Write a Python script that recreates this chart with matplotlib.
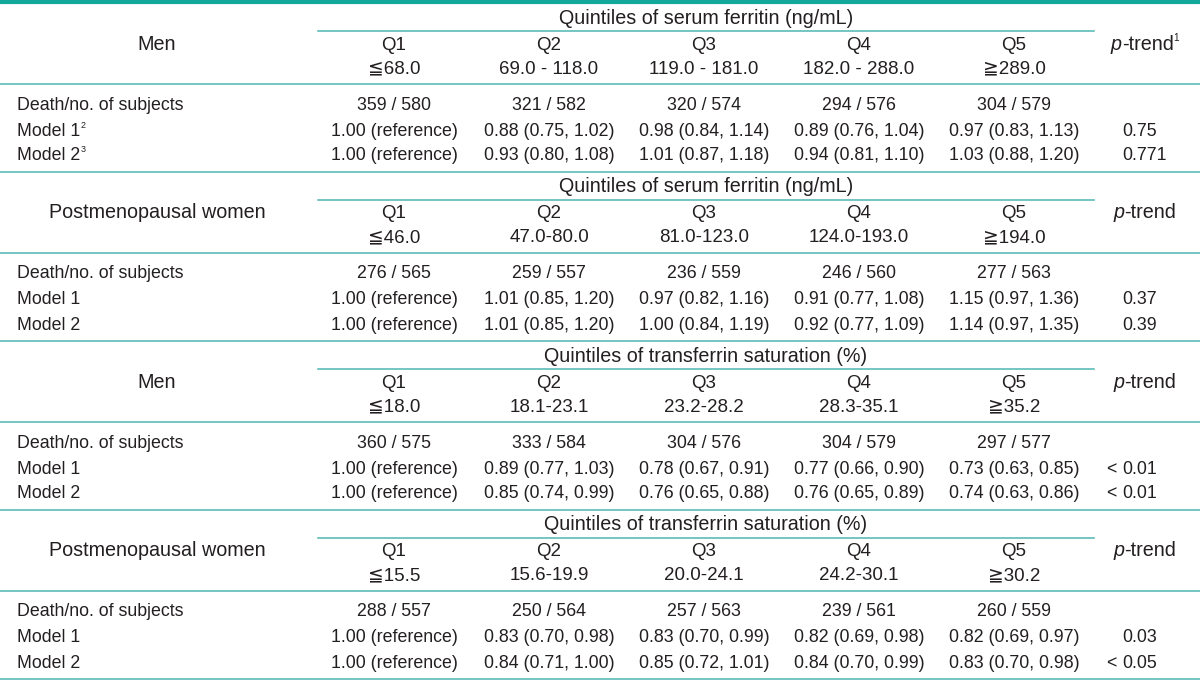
import matplotlib
matplotlib.use("Agg")
import matplotlib.pyplot as plt

plt.rcParams['font.family'] = ['Liberation Sans', 'DejaVu Sans']

# ---- table content ----
group_labels = ["Men", "Postmenopausal women", "Men", "Postmenopausal women"]
quintile_titles = ["Quintiles of serum ferritin (ng/mL)",
                   "Quintiles of serum ferritin (ng/mL)",
                   "Quintiles of transferrin saturation (%)",
                   "Quintiles of transferrin saturation (%)"]
quintiles = ["Q1", "Q2", "Q3", "Q4", "Q5"]
ranges = [
    ["\u226668.0", "69.0 - 118.0", "119.0 - 181.0", "182.0 - 288.0", "\u2267289.0"],
    ["\u226646.0", "47.0-80.0", "81.0-123.0", "124.0-193.0", "\u2267194.0"],
    ["\u226618.0", "18.1-23.1", "23.2-28.2", "28.3-35.1", "\u226735.2"],
    ["\u226615.5", "15.6-19.9", "20.0-24.1", "24.2-30.1", "\u226730.2"],
]
deaths = [[359, 321, 320, 294, 304],
          [276, 259, 236, 246, 277],
          [360, 333, 304, 304, 297],
          [288, 250, 257, 239, 260]]
subjects = [[580, 582, 574, 576, 579],
            [565, 557, 559, 560, 563],
            [575, 584, 576, 579, 577],
            [557, 564, 563, 561, 559]]
# hazard ratio (lower, upper) for Q2..Q5
model1 = [[(0.88, 0.75, 1.02), (0.98, 0.84, 1.14), (0.89, 0.76, 1.04), (0.97, 0.83, 1.13)],
          [(1.01, 0.85, 1.20), (0.97, 0.82, 1.16), (0.91, 0.77, 1.08), (1.15, 0.97, 1.36)],
          [(0.89, 0.77, 1.03), (0.78, 0.67, 0.91), (0.77, 0.66, 0.90), (0.73, 0.63, 0.85)],
          [(0.83, 0.70, 0.98), (0.83, 0.70, 0.99), (0.82, 0.69, 0.98), (0.82, 0.69, 0.97)]]
model2 = [[(0.93, 0.80, 1.08), (1.01, 0.87, 1.18), (0.94, 0.81, 1.10), (1.03, 0.88, 1.20)],
          [(1.01, 0.85, 1.20), (1.00, 0.84, 1.19), (0.92, 0.77, 1.09), (1.14, 0.97, 1.35)],
          [(0.85, 0.74, 0.99), (0.76, 0.65, 0.88), (0.76, 0.65, 0.89), (0.74, 0.63, 0.86)],
          [(0.84, 0.71, 1.00), (0.85, 0.72, 1.01), (0.84, 0.70, 0.99), (0.83, 0.70, 0.98)]]
p_model1 = ["0.75", "0.37", "< 0.01", "0.03"]
p_model2 = ["0.771", "0.39", "< 0.01", "< 0.05"]
row_labels = ["Death/no. of subjects", "Model 1", "Model 2"]
footnote_marks = [("1", "2", "3"), None, None, None]

# ---- layout ----
W, H = 1200, 680
fig = plt.figure(figsize=(12, 6.8), dpi=100)
ax = fig.add_axes([0, 0, 1, 1])
ax.set_xlim(0, W)
ax.set_ylim(H, 0)
ax.axis("off")
renderer = fig.canvas.get_renderer()

fs = 12.8
fs_q = 13.5
fs_head = 14.2
txt_color = "#231f20"
line_color = "#4db6b2"
top_color = "#14a89d"

col_x = [394, 549, 704, 859, 1014]
p_x = 1145
p_num_x = 1122
label_x = 17
group_x = 157
sub_line = (318, 1094)
section_tops = [3, 172, 341, 510]


def put(x, y, s, ha="center", size=fs, style="normal"):
    return ax.text(x, y, s, ha=ha, va="center", fontsize=size,
                   style=style, color=txt_color)


def put_parts(x, y, parts, ha="center", size=fs):
    # parts: (text, italic, superscript)
    items = []
    for s, it, sup in parts:
        t = put(0, y - (6 if sup else 0), s, ha="left",
                size=size * 0.5 if sup else size,
                style="italic" if it else "normal")
        w = t.get_window_extent(renderer).width
        items.append((t, w))
    total = sum(w for _, w in items)
    x0 = x - total / 2 if ha == "center" else x
    for t, w in items:
        t.set_x(x0)
        x0 += w


def put_p(y, s):
    # decimal aligned: the number starts at p_num_x, any "<" hangs left
    i = s.index("0")
    if i > 0:
        put(p_num_x, y, s[:i], ha="right")
    put(p_num_x, y, s[i:], ha="left")


def fmt_hr(v):
    return "%.2f (%.2f, %.2f)" % v


ax.plot([0, W], [1.7, 1.7], color=top_color, lw=3.0, solid_capstyle="butt")

for k, top in enumerate(section_tops):
    marks = footnote_marks[k]
    # header
    put(group_x, top + 41, group_labels[k], size=fs_head)
    put((sub_line[0] + sub_line[1]) / 2, top + 15, quintile_titles[k], size=fs_head)
    ax.plot(sub_line, [top + 28, top + 28], color=line_color, lw=1.1)
    for j, q in enumerate(quintiles):
        put(col_x[j], top + 42, q, size=fs_q)
        put(col_x[j], top + 66, ranges[k][j], size=fs_q)
    ptr = [("p", True, False), ("-trend", False, False)]
    if marks:
        ptr.append((marks[0], False, True))
    put_parts(p_x, top + 41, ptr, size=fs_head)
    ax.plot([0, W], [top + 81, top + 81], color=line_color, lw=1.1)

    # body
    rows_y = [top + 102, top + 128, top + 153]
    put(label_x, rows_y[0], row_labels[0], ha="left")
    for r in (1, 2):
        parts = [(row_labels[r], False, False)]
        if marks:
            parts.append((marks[r], False, True))
        put_parts(label_x, rows_y[r], parts, ha="left")
    for j in range(5):
        put(col_x[j], rows_y[0], "%d / %d" % (deaths[k][j], subjects[k][j]))
    put(col_x[0], rows_y[1], "1.00 (reference)")
    put(col_x[0], rows_y[2], "1.00 (reference)")
    for j in range(4):
        put(col_x[j + 1], rows_y[1], fmt_hr(model1[k][j]))
        put(col_x[j + 1], rows_y[2], fmt_hr(model2[k][j]))
    put_p(rows_y[1], p_model1[k])
    put_p(rows_y[2], p_model2[k])

for y in (172, 341, 510, 679):
    ax.plot([0, W], [y, y], color=line_color, lw=1.1)

fig.savefig("out.png", dpi=100)
